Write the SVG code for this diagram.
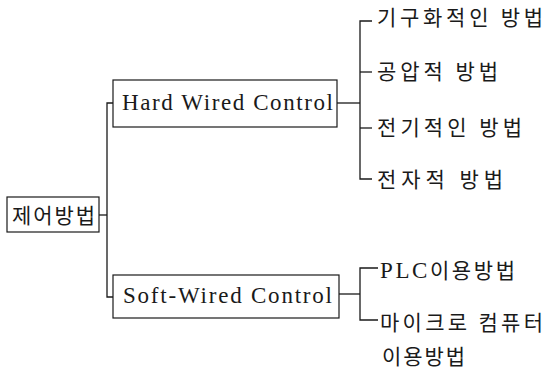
<svg xmlns="http://www.w3.org/2000/svg" width="550" height="371" viewBox="0 0 550 371">
<style>
.box{fill:#fff;stroke:#1a1a1a;stroke-width:1.2}
.ln{fill:none;stroke:#1a1a1a;stroke-width:1.3}
.ko{font-family:"Noto Sans CJK KR","Noto Sans CJK SC",sans-serif;font-size:21px;fill:#1a1a1a}
.en{font-family:"Liberation Serif",serif;font-size:23px;fill:#1a1a1a}
</style>
<rect width="550" height="371" fill="#fff"/>
<g id="connectors">
<path class="ln" d="M99,215 H107"/>
<path class="ln" d="M113,103 H107 V297 H113"/>
<path class="ln" d="M337,103 H360"/>
<path class="ln" d="M372,21 H360 V179 H372"/>
<path class="ln" d="M360,72 H372"/>
<path class="ln" d="M360,128 H372"/>
<path class="ln" d="M339,294 H360"/>
<path class="ln" d="M378,268 H360 V320 H378"/>
</g>
<g id="root">
<rect class="box" x="7" y="197" width="92" height="35"/>
<text class="ko" x="12" y="223" textLength="83" lengthAdjust="spacing">제어방법</text>
</g>
<g id="hard">
<rect class="box" x="113" y="80" width="224" height="47"/>
<text class="en" x="122" y="110" textLength="211" lengthAdjust="spacing">Hard Wired Control</text>
</g>
<g id="soft">
<rect class="box" x="113" y="275" width="226" height="43"/>
<text class="en" x="123" y="303" textLength="209" lengthAdjust="spacing">Soft-Wired Control</text>
</g>
<g id="h1"><text class="ko" x="377" y="25" textLength="166" lengthAdjust="spacing">기구화적인 방법</text></g>
<g id="h2"><text class="ko" x="377" y="79" textLength="121" lengthAdjust="spacing">공압적 방법</text></g>
<g id="h3"><text class="ko" x="377" y="135" textLength="145" lengthAdjust="spacing">전기적인 방법</text></g>
<g id="h4"><text class="ko" x="377" y="187" textLength="126" lengthAdjust="spacing">전자적 방법</text></g>
<g id="s1"><text class="ko" x="380" y="278" textLength="135" lengthAdjust="spacing"><tspan font-family="Liberation Serif, serif" font-size="23">PLC</tspan>이용방법</text></g>
<g id="s2">
<text class="ko" x="380" y="330" textLength="163" lengthAdjust="spacing">마이크로 컴퓨터</text>
<text class="ko" x="382" y="364" textLength="83" lengthAdjust="spacing">이용방법</text>
</g>
</svg>
